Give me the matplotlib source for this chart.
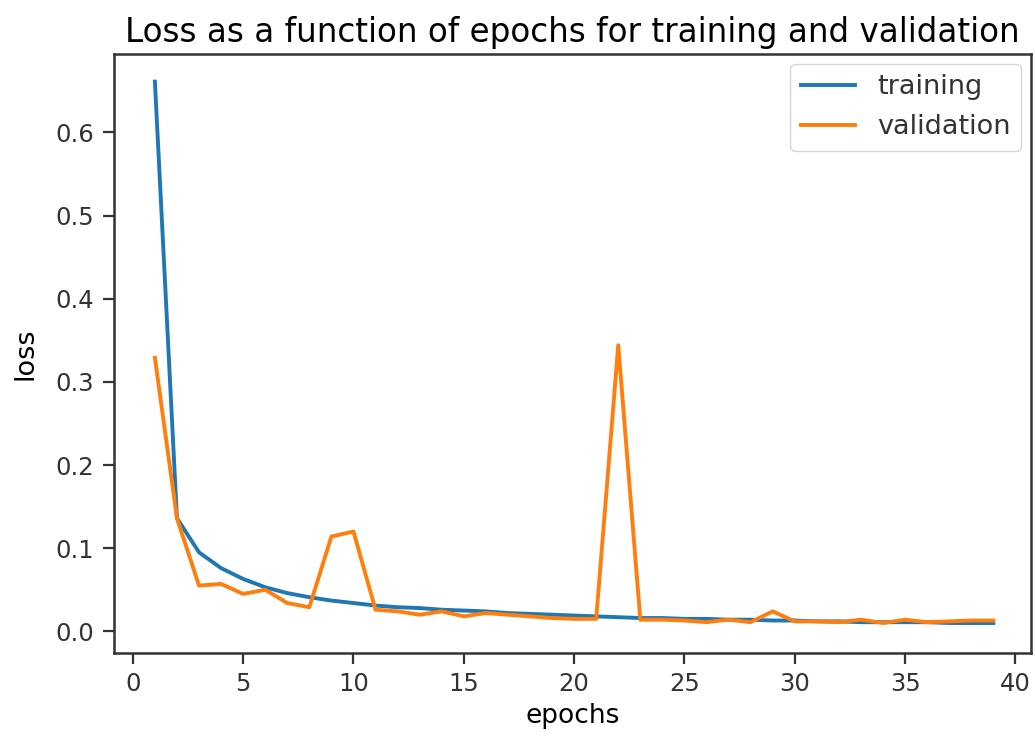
import matplotlib
matplotlib.use('Agg')
import matplotlib.pyplot as plt

# loss per epoch
epochs = list(range(1, 40))
train_loss = [0.661, 0.136, 0.095, 0.076, 0.063, 0.053, 0.046, 0.041, 0.037, 0.034,
              0.031, 0.029, 0.028, 0.026, 0.025, 0.024, 0.022, 0.021, 0.020, 0.019,
              0.018, 0.017, 0.016, 0.016, 0.015, 0.015, 0.014, 0.014, 0.013, 0.013,
              0.012, 0.012, 0.011, 0.011, 0.011, 0.011, 0.010, 0.010, 0.010]
val_loss = [0.329, 0.136, 0.055, 0.057, 0.045, 0.050, 0.034, 0.029, 0.114, 0.120,
            0.026, 0.024, 0.020, 0.024, 0.018, 0.022, 0.020, 0.018, 0.016, 0.015,
            0.015, 0.344, 0.014, 0.014, 0.013, 0.011, 0.014, 0.011, 0.024, 0.012,
            0.012, 0.011, 0.014, 0.010, 0.014, 0.011, 0.012, 0.013, 0.013]

fig = plt.figure(figsize=(10.35, 7.42), dpi=100)
ax = fig.add_axes([0.110, 0.120, 0.886, 0.807])

ax.plot(epochs, train_loss, color='#1f77b4', linewidth=2.8, label='training')
ax.plot(epochs, val_loss, color='#ff7f0e', linewidth=2.8, label='validation')

ax.set_xlim(-0.86, 40.7)
ax.set_ylim(-0.026, 0.694)
ax.set_xticks([0, 5, 10, 15, 20, 25, 30, 35, 40])
ax.set_yticks([0.0, 0.1, 0.2, 0.3, 0.4, 0.5, 0.6])

ax.set_title('Loss as a function of epochs for training and validation', fontsize=23.5, pad=9)
ax.set_xlabel('epochs', fontsize=19, labelpad=5)
ax.set_ylabel('loss', fontsize=19.5, labelpad=12)
ax.tick_params(labelsize=17.5, length=8, width=1.6, pad=6, colors='#333333')
for s in ax.spines.values():
    s.set_linewidth(1.8)
    s.set_color('#333333')

leg = ax.legend(loc='upper right', fontsize=19.5, handlelength=2.0, borderpad=0.4,
                borderaxespad=0.35)
for t in leg.get_texts():
    t.set_color('#333333')

fig.savefig('out.png', dpi=100)
